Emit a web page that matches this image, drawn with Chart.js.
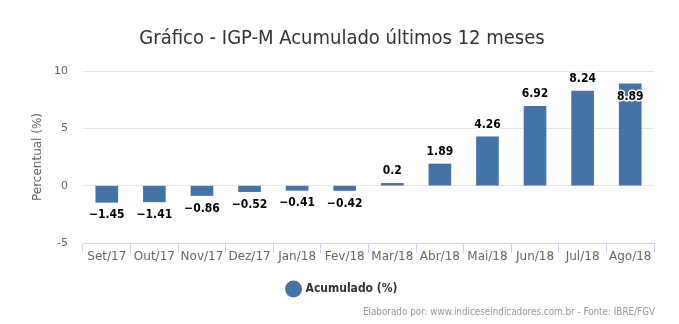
<!DOCTYPE html>
<html>
<head>
<meta charset="utf-8">
<script src="https://cdn.jsdelivr.net/npm/chart.js@4.4.1/dist/chart.umd.min.js"></script>
<style>
  html, body { margin: 0; padding: 0; background: #fff; }
  #wrap { width: 679px; height: 324px; position: relative; }
</style>
</head>
<body>
<div id="wrap"><canvas id="chart" width="679" height="324"></canvas></div>
<script>
const titleText = 'Gráfico - IGP-M Acumulado últimos 12 meses';
const creditText = 'Elaborado por: www.indiceseindicadores.com.br - Fonte: IBRE/FGV';
const months = ['Set/17', 'Out/17', 'Nov/17', 'Dez/17', 'Jan/18', 'Fev/18', 'Mar/18', 'Abr/18', 'Mai/18', 'Jun/18', 'Jul/18', 'Ago/18'];
const acumulado = [-1.45, -1.41, -0.86, -0.52, -0.41, -0.42, 0.2, 1.89, 4.26, 6.92, 8.24, 8.89];
const yTicks = [-5, 0, 5, 10];

const FONT = '"DejaVu Sans Condensed", "DejaVu Sans", sans-serif';
const FONT_W = '"DejaVu Sans", sans-serif';
const barColor = '#4572a7';

// title + credits drawn on the canvas
const extras = {
    id: 'extras',
    afterDraw(chart) {
        const c = chart.ctx;
        c.save();
        c.fillStyle = '#333333';
        c.font = '20px ' + FONT;
        c.textAlign = 'center';
        c.textBaseline = 'alphabetic';
        c.fillText(titleText, 342, 44);
        c.fillStyle = '#999999';
        c.font = '9.8px ' + FONT;
        c.textAlign = 'right';
        c.textBaseline = 'middle';
        c.fillText(creditText, 655, 312);
        c.restore();
    }
};

// value labels like highcharts (outline, inside if it would overflow)
const valueLabels = {
    id: 'valueLabels',
    afterDatasetsDraw(chart) {
        const c = chart.ctx, area = chart.chartArea;
        const meta = chart.getDatasetMeta(0);
        c.save();
        c.font = 'bold 12px ' + FONT;
        c.textAlign = 'center';
        c.textBaseline = 'middle';
        c.lineJoin = 'round';
        meta.data.forEach((bar, i) => {
            const v = acumulado[i];
            let y;
            if (v >= 0) {
                y = bar.y - 12;
                if (y - 6 < area.top) y = bar.y + 13;
            } else {
                y = bar.y + 13;
            }
            const txt = String(v).replace('-', '\u2212');
            c.strokeStyle = '#ffffff';
            c.lineWidth = 3;
            c.strokeText(txt, bar.x, y);
            c.fillStyle = '#000000';
            c.fillText(txt, bar.x, y);
        });
        c.restore();
    }
};

new Chart(document.getElementById('chart'), {
    type: 'bar',
    data: {
        labels: months,
        datasets: [{
            label: 'Acumulado (%)',
            data: acumulado,
            backgroundColor: barColor,
            borderWidth: 0,
            barThickness: 22
        }]
    },
    plugins: [extras, valueLabels],
    options: {
        responsive: false,
        animation: false,
        layout: { padding: { top: 71, right: 25, left: 31, bottom: 19 } },
        scales: {
            x: {
                grid: { offset: true, drawOnChartArea: false, color: '#ccd6eb', tickLength: 10 },
                border: { color: '#ccd6eb' },
                ticks: { font: { family: FONT_W, size: 12 }, color: '#666666', padding: -3, maxRotation: 0 },
                afterFit: s => { s.height = 30; }
            },
            y: {
                min: -5, max: 10,
                afterBuildTicks: s => { s.ticks = yTicks.map(v => ({ value: v })); },
                grid: { color: '#e6e6e6', drawTicks: false },
                border: { display: false },
                ticks: { font: { family: FONT_W, size: 11 }, color: '#666666', padding: 15 },
                title: { display: true, text: 'Percentual (%)', color: '#666666', font: { family: FONT_W, size: 12 }, padding: { top: 0, bottom: 0 } },
                afterFit: s => { s.width = 52; }
            }
        },
        plugins: {
            title: { display: false },
            tooltip: { enabled: false },
            legend: {
                position: 'bottom',
                labels: {
                    usePointStyle: true, pointStyle: 'circle', boxWidth: 12, boxHeight: 12,
                    color: '#333333', font: { family: FONT, size: 12, weight: 'bold' }, padding: 10
                }
            }
        }
    }
});
</script>
</body>
</html>
